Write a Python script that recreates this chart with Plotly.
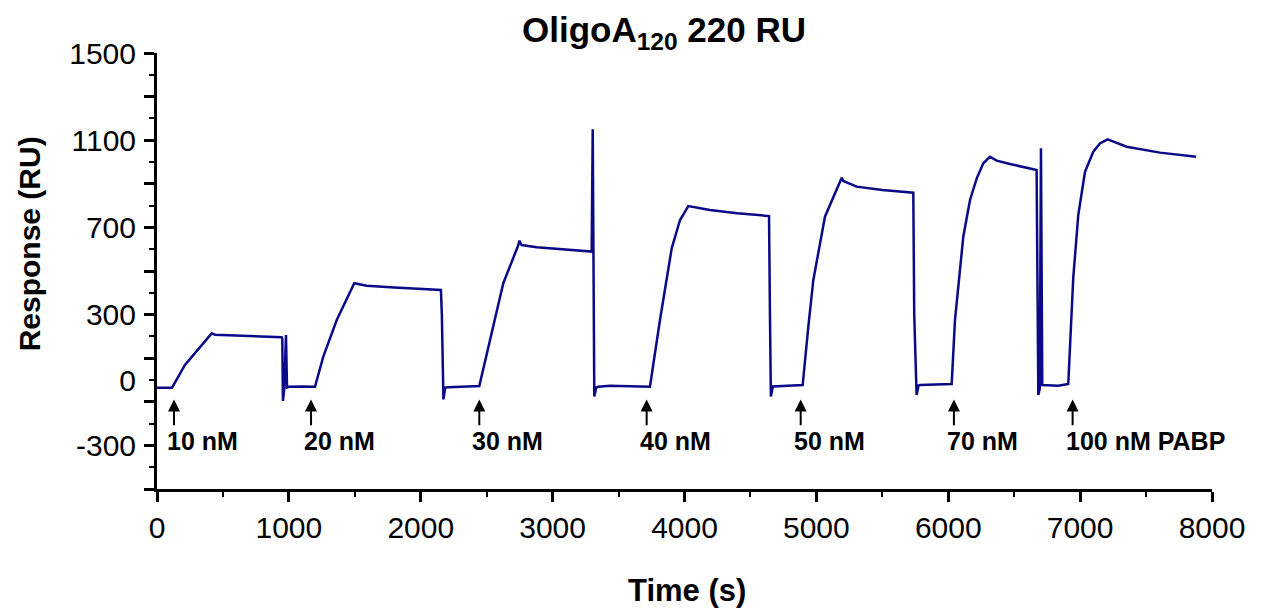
import plotly.graph_objects as go

# Sensorgram data (time in s, response in RU)
time_s = [0, 114, 212, 415, 440, 600, 945, 950, 955, 965, 978, 986, 1000, 1100, 1198,
          1261, 1363, 1496, 1590, 1800, 2153, 2160, 2172, 2185, 2210, 2444,
          2550, 2626, 2740, 2747, 2765, 2879, 3296, 3304, 3316, 3330, 3346, 3435, 3738,
          3776, 3814, 3903, 3966, 4029, 4193, 4400, 4641, 4648, 4655, 4670, 4720, 4896,
          4939, 4977, 5065, 5128, 5192, 5204, 5305, 5500, 5735, 5742, 5760, 5775, 5786, 6026,
          6051, 6114, 6165, 6216, 6266, 6316, 6367, 6468, 6670, 6683, 6694, 6703, 6713, 6834, 6910,
          6948, 6986, 7037, 7100, 7150, 7208, 7353, 7606, 7879]
response_ru = [-35, -35, 69, 214, 208, 204, 196, 190, -96, -40, 206, -34, -31, -30, -31,
               107, 275, 444, 432, 424, 413, 300, -89, -35, -33, -28,
               245, 444, 619, 639, 619, 609, 589, 1150, -76, -35, -31, -26, -31,
               122, 275, 604, 734, 798, 780, 765, 752, 300, -76, -30, -28, -23,
               245, 459, 749, 841, 928, 913, 887, 872, 859, 300, -69, -25, -23, -18,
               275, 657, 826, 925, 994, 1024, 1006, 991, 963, -69, -40, 1063, -23, -26, -18,
               470, 757, 955, 1047, 1085, 1104, 1070, 1043, 1024]

# Injection markers
inject_times = [129, 1168, 2444, 3713, 4881, 6043, 6943]
inject_labels = ["10 nM", "20 nM", "30 nM", "40 nM", "50 nM", "70 nM", "100 nM PABP"]
arrow_head_ru = -90
arrow_tail_ru = -214
label_ru = -280

# Axis ticks
y_label_vals = [1500, 1100, 700, 300, 0, -300]
y_label_text = ["1500", "1100", "700", "300", "0", "-300"]
x_tick_vals = [0, 1000, 2000, 3000, 4000, 5000, 6000, 7000, 8000]

FONT = "Arial, 'Liberation Sans', sans-serif"
OFF = 8  # page body margin in the browser

fig = go.Figure()
fig.add_trace(go.Scatter(x=time_s, y=response_ru, mode="lines",
                         line=dict(color="#0a0a88", width=2.5),
                         showlegend=False, hoverinfo="skip"))
# carrier trace for the label-only y axis
fig.add_trace(go.Scatter(x=[None], y=[None], yaxis="y2", mode="lines",
                         showlegend=False, hoverinfo="skip"))

annotations = []
for t, lab in zip(inject_times, inject_labels):
    annotations.append(dict(x=t, y=arrow_head_ru, ax=t, ay=arrow_tail_ru,
                            xref="x", yref="y", axref="x", ayref="y",
                            text="", showarrow=True, arrowhead=2, arrowsize=1.2,
                            arrowwidth=2, arrowcolor="black", standoff=0))
    annotations.append(dict(x=t, y=label_ru, xref="x", yref="y", text="<b>" + lab + "</b>",
                            showarrow=False, xanchor="left", yanchor="middle", xshift=-9,
                            font=dict(family=FONT, size=25, color="black")))

# axis titles
annotations.append(dict(x=0.502, y=-0.232, xref="paper", yref="paper", text="<b>Time (s)</b>",
                        showarrow=False, xanchor="center", yanchor="middle",
                        font=dict(family=FONT, size=31, color="black")))
annotations.append(dict(x=-0.12, y=0.562, xref="paper", yref="paper", text="<b>Response (RU)</b>",
                        showarrow=False, xanchor="center", yanchor="middle", textangle=-90,
                        font=dict(family=FONT, size=30, color="black")))

fig.update_layout(
    width=1262, height=614,
    margin=dict(l=157 - OFF, r=50 + OFF, t=53 - OFF, b=125 + OFF),
    paper_bgcolor="white", plot_bgcolor="white",
    font=dict(family=FONT, color="black"),
    title=dict(text="<b>OligoA<sub>120</sub> 220 RU</b>", x=0.4806, xref="paper", xanchor="center",
               y=1 - (30 - OFF) / 614, yref="container", yanchor="middle",
               font=dict(family=FONT, size=35, color="black")),
    xaxis=dict(range=[0, 8000], tickvals=x_tick_vals, showgrid=False, zeroline=False,
               showline=True, linecolor="black", linewidth=2.5,
               ticks="outside", ticklen=10, tickwidth=2.5, tickcolor="black",
               minor=dict(dtick=500, tick0=0, ticks="outside", ticklen=5, tickwidth=2, tickcolor="black"),
               tickfont=dict(family=FONT, size=30, color="black"), ticklabelstandoff=0),
    yaxis=dict(range=[-500, 1500], tick0=-500, dtick=200, showgrid=False, zeroline=False,
               showline=True, linecolor="black", linewidth=2.5,
               ticks="outside", ticklen=10, tickwidth=2.5, tickcolor="black",
               showticklabels=False,
               minor=dict(dtick=100, tick0=-500, ticks="outside", ticklen=5, tickwidth=2, tickcolor="black")),
    yaxis2=dict(range=[-500, 1500], overlaying="y", side="left", anchor="x",
                tickvals=y_label_vals, ticktext=y_label_text, ticks="", showline=False,
                showgrid=False, zeroline=False,
                tickfont=dict(family=FONT, size=30, color="black"), ticklabelstandoff=20),
    annotations=annotations,
)

fig.write_html("out.html")
